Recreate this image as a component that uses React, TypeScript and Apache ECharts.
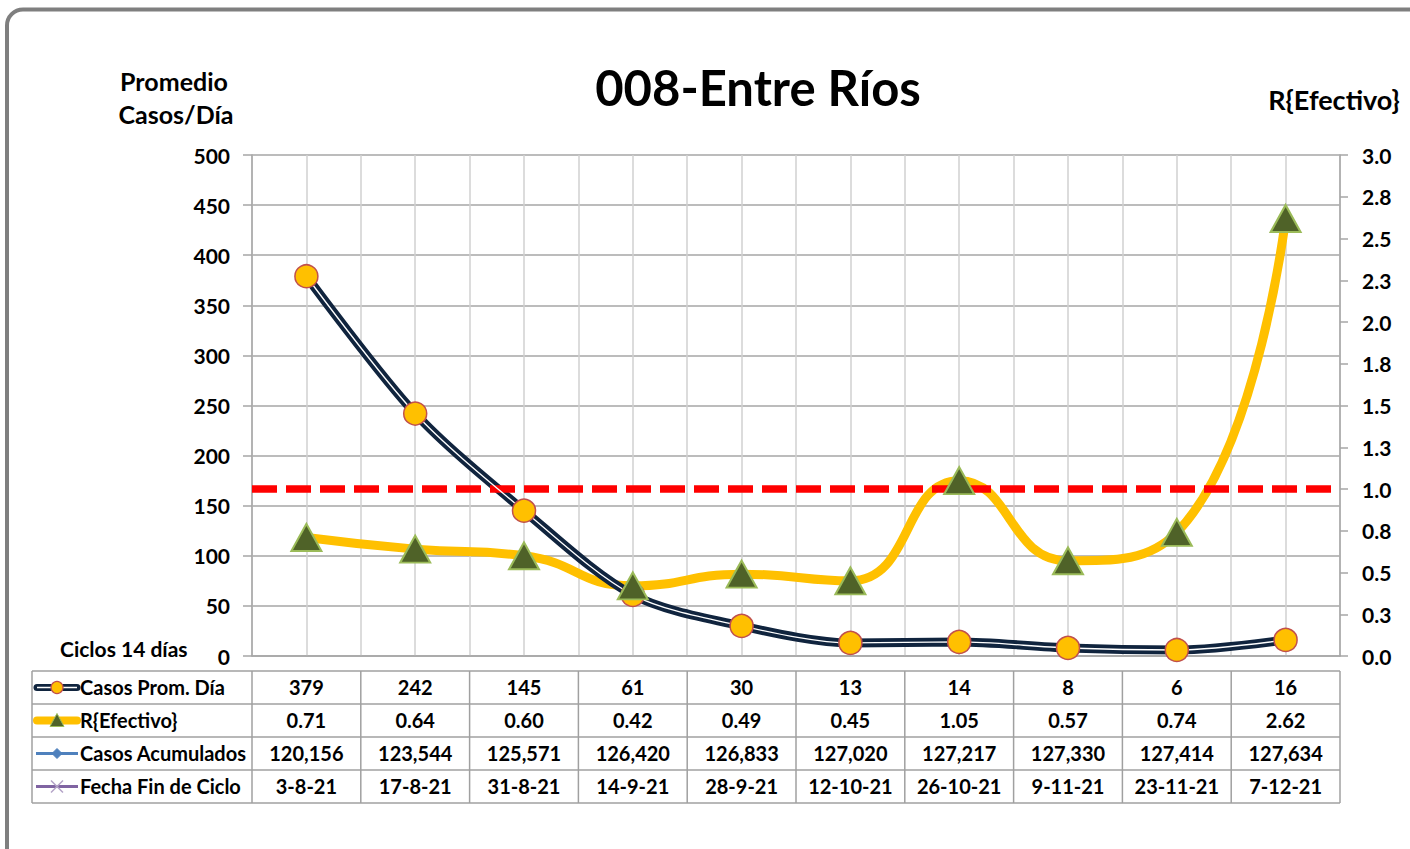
import React, { useEffect, useRef } from "react";
import * as echarts from "echarts";

const fechas = ["3-8-21", "17-8-21", "31-8-21", "14-9-21", "28-9-21", "12-10-21", "26-10-21", "9-11-21", "23-11-21", "7-12-21"];
const casosProm = [379, 242, 145, 61, 30, 13, 14, 8, 6, 16];
const rEfectivo = [0.71, 0.64, 0.6, 0.42, 0.49, 0.45, 1.05, 0.57, 0.74, 2.62];
const casosAcum = [120156, 123544, 125571, 126420, 126833, 127020, 127217, 127330, 127414, 127634];
const rowNames = ["Casos Prom. Día", "R{Efectivo}", "Casos Acumulados", "Fecha Fin de Ciclo"];
const titleText = "008-Entre Ríos";
const leftAxisName = ["Promedio", "Casos/Día"];
const rightAxisName = "R{Efectivo}";
const xAxisNote = "Ciclos 14 días";
const threshold = 1.0;

const FONT = "Lato, 'Noto Sans', sans-serif";

export default function App() {
  const ref = useRef<HTMLDivElement>(null);
  useEffect(() => {
    if (!ref.current) return;
    const chart = echarts.init(ref.current, null, { renderer: "svg" });
    const gl = 252, gt = 155, gw = 1088, gh = 501;
    const gr = gl + gw;
    const colW = gw / fechas.length;
    const tTop = 671, rowH = 33, tLeft = 32;
    const gridColor = "#a6a6a6";
    const tableColor = "#a0a0a0";
    const graphics: any[] = [];
    // outer frame
    graphics.push({ type: "rect", shape: { x: 7, y: 9.5, width: 1430, height: 870, r: 16 }, style: { fill: "none", stroke: "#7f7f7f", lineWidth: 4 }, z: 1 });
    // title & axis names
    graphics.push({ type: "text", style: { x: 758, y: 87, text: titleText, font: `bold 49px ${FONT}`, fill: "#000", textAlign: "center", textVerticalAlign: "middle" }, z: 10 });
    graphics.push({ type: "text", style: { x: 174, y: 81, text: leftAxisName[0], font: `bold 25px ${FONT}`, fill: "#000", textAlign: "center", textVerticalAlign: "middle" }, z: 10 });
    graphics.push({ type: "text", style: { x: 176, y: 114, text: leftAxisName[1], font: `bold 25px ${FONT}`, fill: "#000", textAlign: "center", textVerticalAlign: "middle" }, z: 10 });
    graphics.push({ type: "text", style: { x: 1334, y: 99, text: rightAxisName, font: `bold 27px ${FONT}`, fill: "#000", textAlign: "center", textVerticalAlign: "middle" }, z: 10 });
    graphics.push({ type: "text", style: { x: 60, y: 648, text: xAxisNote, font: `bold 21px ${FONT}`, fill: "#000", textAlign: "left", textVerticalAlign: "middle" }, z: 10 });
    // table lines
    for (let r = 0; r <= rowNames.length; r++) {
      const y = tTop + r * rowH;
      graphics.push({ type: "line", shape: { x1: tLeft, y1: y, x2: gr, y2: y }, style: { stroke: tableColor, lineWidth: 1.5 }, z: 5 });
    }
    const vx = [tLeft];
    for (let c = 0; c <= fechas.length; c++) vx.push(gl + c * colW);
    vx.forEach((x) => graphics.push({ type: "line", shape: { x1: x, y1: tTop, x2: x, y2: tTop + rowNames.length * rowH }, style: { stroke: tableColor, lineWidth: 1.5 }, z: 5 }));
    const rows: string[][] = [
      casosProm.map((v) => String(v)),
      rEfectivo.map((v) => v.toFixed(2)),
      casosAcum.map((v) => v.toLocaleString("en-US")),
      fechas,
    ];
    rows.forEach((row, r) => {
      const y = tTop + r * rowH + rowH / 2 - 0.5;
      graphics.push({ type: "text", style: { x: 80, y, text: rowNames[r], font: `bold 20px ${FONT}`, fill: "#000", textAlign: "left", textVerticalAlign: "middle" }, z: 10 });
      row.forEach((t, c) => {
        graphics.push({ type: "text", style: { x: gl + (c + 0.5) * colW, y, text: t, font: `bold 20px ${FONT}`, fill: "#000", textAlign: "center", textVerticalAlign: "middle" }, z: 10 });
      });
    });
    // legend keys
    const ky = (r: number) => tTop + r * rowH + rowH / 2;
    graphics.push({ type: "line", shape: { x1: 37, y1: ky(0), x2: 77, y2: ky(0) }, style: { stroke: "#10243e", lineWidth: 7, lineCap: "round" }, z: 11 });
    graphics.push({ type: "line", shape: { x1: 37, y1: ky(0), x2: 77, y2: ky(0) }, style: { stroke: "#ffffff", lineWidth: 1.5 }, z: 12 });
    graphics.push({ type: "circle", shape: { cx: 57, cy: ky(0), r: 6 }, style: { fill: "#FFC000", stroke: "#c0504d", lineWidth: 1.2 }, z: 13 });
    graphics.push({ type: "line", shape: { x1: 37, y1: ky(1), x2: 77, y2: ky(1) }, style: { stroke: "#FFC000", lineWidth: 8, lineCap: "round" }, z: 11 });
    graphics.push({ type: "polygon", shape: { points: [[57, ky(1) - 7], [64, ky(1) + 6], [50, ky(1) + 6]] }, style: { fill: "#4f6228", stroke: "#9bbb59", lineWidth: 1 }, z: 13 });
    graphics.push({ type: "line", shape: { x1: 36, y1: ky(2), x2: 78, y2: ky(2) }, style: { stroke: "#4f81bd", lineWidth: 3 }, z: 11 });
    graphics.push({ type: "polygon", shape: { points: [[57, ky(2) - 5], [62, ky(2)], [57, ky(2) + 5], [52, ky(2)]] }, style: { fill: "#4f81bd", stroke: "#4f81bd", lineWidth: 1 }, z: 13 });
    graphics.push({ type: "line", shape: { x1: 36, y1: ky(3), x2: 78, y2: ky(3) }, style: { stroke: "#8064a2", lineWidth: 3 }, z: 11 });
    graphics.push({ type: "line", shape: { x1: 51, y1: ky(3) - 6, x2: 63, y2: ky(3) + 6 }, style: { stroke: "#b3a2c7", lineWidth: 1.5 }, z: 13 });
    graphics.push({ type: "line", shape: { x1: 51, y1: ky(3) + 6, x2: 63, y2: ky(3) - 6 }, style: { stroke: "#b3a2c7", lineWidth: 1.5 }, z: 13 });

    const labelStyle = { color: "#000", fontSize: 21, fontWeight: "bold" as const, fontFamily: FONT };
    chart.setOption({
      animation: false,
      backgroundColor: "#fff",
      grid: { left: gl, top: gt, width: gw, height: gh },
      xAxis: [
        { type: "category", data: fechas, boundaryGap: true, axisLabel: { show: false }, axisTick: { show: false }, axisLine: { show: true, lineStyle: { color: gridColor, width: 1.5 } }, splitLine: { show: false } },
        { type: "value", min: 0, max: fechas.length * 2, interval: 1, position: "top", axisLabel: { show: false }, axisTick: { show: false }, axisLine: { show: false }, splitLine: { show: true, lineStyle: { color: "#d0d0d0", width: 1.5 } } },
      ],
      yAxis: [
        { type: "value", min: 0, max: 500, interval: 50, position: "left", axisLine: { show: true, lineStyle: { color: gridColor, width: 1.5 } }, axisTick: { show: true, length: 9, lineStyle: { color: gridColor, width: 1.5 } }, axisLabel: { ...labelStyle, margin: 22 }, splitLine: { show: true, lineStyle: { color: gridColor, width: 1.5 } } },
        { type: "value", min: 0, max: 3, interval: 0.25, position: "right", axisLine: { show: true, lineStyle: { color: gridColor, width: 1.5 } }, axisTick: { show: true, length: 8, lineStyle: { color: gridColor, width: 1.5 } }, axisLabel: { ...labelStyle, margin: 22, formatter: (v: number) => v.toFixed(1) }, splitLine: { show: false } },
      ],
      series: [
        { name: rowNames[1], type: "line", yAxisIndex: 1, data: rEfectivo, smooth: 0.5, z: 2, symbol: "none", lineStyle: { color: "#FFC000", width: 9 } },
        { name: "ref", type: "line", yAxisIndex: 1, data: [], z: 3, markLine: { silent: true, symbol: "none", label: { show: false }, data: [{ yAxis: threshold }], lineStyle: { color: "#ff0000", width: 7.5, type: [25, 9] } } },
        { name: rowNames[0], type: "line", data: casosProm, smooth: 0.3, z: 4, symbol: "none", lineStyle: { color: "#10243e", width: 9 } },
        { name: "inner", type: "line", data: casosProm, smooth: 0.3, z: 5, symbol: "none", lineStyle: { color: "#ffffff", width: 1.3 } },
        { name: "markers", type: "line", data: casosProm, z: 6, symbol: "circle", symbolSize: 23, lineStyle: { opacity: 0 }, itemStyle: { color: "#FFC000", borderColor: "#c0504d", borderWidth: 1.5 } },
        { name: "rMarkers", type: "line", yAxisIndex: 1, data: rEfectivo, z: 7, symbol: "triangle", symbolSize: [30, 27], lineStyle: { opacity: 0 }, itemStyle: { color: "#4f6228", borderColor: "#9bbb59", borderWidth: 2 } },
      ],
      graphic: graphics,
    });
    return () => chart.dispose();
  }, []);
  return <div ref={ref} style={{ position: "fixed", left: 0, top: 0, width: 1410, height: 849 }} />;
}
